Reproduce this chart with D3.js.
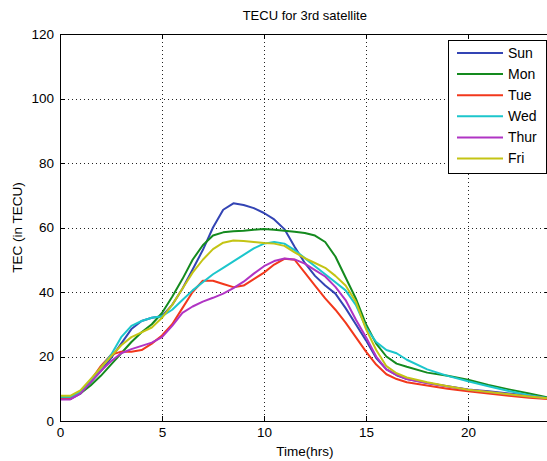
<!DOCTYPE html>
<html>
<head>
<meta charset="utf-8">
<script src="https://cdn.jsdelivr.net/npm/d3@7"></script>
<style>
  body { margin: 0; background: #fff; }
  text { font-family: "Liberation Sans", Arial, sans-serif; fill: #000; }
</style>
</head>
<body>
<svg id="chart" width="547" height="461"></svg>
<script>
// time axis (hrs), shared by all days
var hours = [0, 0.5, 1, 1.5, 2, 2.5, 3, 3.5, 4, 4.5, 5, 5.5, 6, 6.5, 7, 7.5, 8, 8.5, 9, 9.5,
    10, 10.5, 11, 11.5, 12, 12.5, 13, 13.5, 14, 14.5, 15, 15.5, 16, 16.5, 17, 18, 19, 20, 21, 22, 23, 24];

var sun = [6.8, 6.8, 8.5, 12, 15.5, 19.5, 24, 28.5, 31, 32, 32.5, 36, 41, 47, 53, 60, 65.5, 67.5, 67, 66,
    64.5, 62.5, 59.5, 54, 49, 45, 42, 39.5, 35, 30, 25, 19.5, 16, 14.2, 13, 11.8, 10.8, 9.8, 9.2, 8.5, 7.8, 7.0];
var mon = [7.5, 7.5, 8.5, 11, 14, 17.5, 21, 24.5, 27.5, 30, 33.5, 38.5, 44, 50, 54.5, 57.5, 58.5, 58.8, 59, 59.3,
    59.5, 59.3, 59, 58.7, 58.3, 57.5, 55.5, 51, 44.5, 38, 30, 24, 20, 17.8, 16.8, 15, 14, 12.8, 11.2, 9.8, 8.5, 7.2];
var tue = [6.8, 6.8, 9, 12.5, 17, 20.5, 21.5, 21.5, 22, 24, 26.5, 30, 35, 40, 43.5, 43.5, 42.5, 41.5, 42, 44,
    46, 48.5, 50.3, 50, 46, 42, 38, 34.5, 30.5, 26, 21.5, 17.5, 14.5, 13, 12, 11, 10, 9.2, 8.5, 7.8, 7.2, 6.8];
var wed = [7.5, 7.5, 9, 12.5, 16.5, 20.5, 26, 29.5, 31, 32, 32.5, 34.5, 37.5, 40.5, 43, 45.5, 47.5, 49.5, 51.5, 53.5,
    55, 55.5, 55, 53, 50.5, 48, 45.5, 43, 40.5, 36, 29, 24.5, 22, 21, 19, 16, 14, 12.3, 10.8, 9.3, 8, 7];
var thur = [6.7, 6.7, 8.5, 12, 15.5, 18.5, 21, 22.3, 23.3, 24.3, 26, 29.5, 33.5, 35.5, 37, 38.2, 39.5, 41.2, 43.2, 45.7,
    48, 49.6, 50.4, 50.1, 48.8, 46.8, 44.8, 41.6, 37.5, 31.5, 26, 20, 16, 14.3, 13, 11.8, 10.7, 9.7, 9, 8.3, 7.6, 7];
var fri = [7.8, 7.8, 9.5, 13, 16.5, 20, 23.5, 26, 27.5, 29, 32, 36, 41, 46, 50, 53.3, 55.3, 56, 55.8, 55.5,
    55.2, 55, 54.3, 52.3, 50.5, 49, 47.5, 45, 42, 37, 28.5, 22, 17, 14.8, 13.5, 12, 10.8, 9.7, 9, 8.3, 7.6, 7];

var dayNames = ["Sun", "Mon", "Tue", "Wed", "Thur", "Fri"];
var dayValues = [sun, mon, tue, wed, thur, fri];
var xTicks = [0, 5, 10, 15, 20];
var yTicks = [0, 20, 40, 60, 80, 100, 120];

var colors = ["#3344b4", "#148a1e", "#f2381c", "#1cc6cc", "#b034c4", "#c4c414"];

var margin = {left: 60, top: 34, right: 549.6, bottom: 421};

var svg = d3.select("#chart");

var x = d3.scaleLinear().domain([0, 24]).range([margin.left, margin.right]);
var y = d3.scaleLinear().domain([0, 120]).range([margin.bottom, margin.top]);

// dotted grid
var grid = svg.append("g").attr("stroke", "#222").attr("stroke-width", 1)
    .attr("stroke-dasharray", "1,3").attr("shape-rendering", "crispEdges");
grid.selectAll(".gx").data(xTicks.slice(1)).enter().append("line")
    .attr("x1", function(d){ return Math.round(x(d)) + 0.5; })
    .attr("x2", function(d){ return Math.round(x(d)) + 0.5; })
    .attr("y1", margin.top).attr("y2", margin.bottom);
grid.selectAll(".gy").data(yTicks.slice(1, -1)).enter().append("line")
    .attr("y1", function(d){ return Math.round(y(d)) + 0.5; })
    .attr("y2", function(d){ return Math.round(y(d)) + 0.5; })
    .attr("x1", margin.left).attr("x2", margin.right);

// series
var line = d3.line()
    .x(function(d){ return x(d[0]); })
    .y(function(d){ return y(d[1]); });

var lines = svg.append("g").attr("fill", "none").attr("stroke-width", 2).attr("stroke-linejoin", "round");
dayValues.forEach(function(vals, i){
    lines.append("path")
        .datum(hours.map(function(h, k){ return [h, vals[k]]; }))
        .attr("stroke", colors[i])
        .attr("d", line);
});

// axes, ticks pointing inwards on all four sides
function styleAxis(g){
    g.attr("font-size", null).attr("font-family", null);
    g.selectAll("path, line").attr("stroke", "#000").attr("shape-rendering", "crispEdges");
    g.selectAll("text").attr("font-size", 13.5);
}
svg.append("g").attr("transform", "translate(0," + margin.bottom + ")")
    .call(d3.axisBottom(x).tickValues(xTicks).tickSize(-5).tickSizeOuter(0).tickPadding(6))
    .call(styleAxis);
svg.append("g").attr("transform", "translate(0," + margin.top + ")")
    .call(d3.axisTop(x).tickValues(xTicks).tickSize(-5).tickSizeOuter(0).tickFormat(""))
    .call(styleAxis);
svg.append("g").attr("transform", "translate(" + margin.left + ",0)")
    .call(d3.axisLeft(y).tickValues(yTicks).tickSize(-5).tickSizeOuter(0).tickPadding(6))
    .call(styleAxis);
svg.append("g").attr("transform", "translate(" + margin.right + ",0)")
    .call(d3.axisRight(y).tickValues(yTicks).tickSize(-5).tickSizeOuter(0).tickFormat(""))
    .call(styleAxis);

// titles
svg.append("text").attr("x", (margin.left + margin.right) / 2).attr("y", 20)
    .attr("text-anchor", "middle").attr("font-size", 13).text("TECU for 3rd satellite");
svg.append("text").attr("x", (margin.left + margin.right) / 2).attr("y", 456)
    .attr("text-anchor", "middle").attr("font-size", 13.5).text("Time(hrs)");
svg.append("text")
    .attr("transform", "translate(22," + (margin.top + margin.bottom) / 2 + ") rotate(-90)")
    .attr("text-anchor", "middle").attr("font-size", 13.5).text("TEC (in TECU)");

// legend
var legend = svg.append("g").attr("transform", "translate(448,40)");
legend.append("rect").attr("x", 0.5).attr("y", 0.5).attr("width", 98).attr("height", 133)
    .attr("fill", "#fff").attr("stroke", "#000").attr("shape-rendering", "crispEdges");
var items = legend.selectAll(".item").data(dayNames).enter().append("g")
    .attr("transform", function(d, i){ return "translate(0," + (13 + i * 21.1) + ")"; });
items.append("line").attr("x1", 9).attr("x2", 55).attr("y1", 0).attr("y2", 0)
    .attr("stroke-width", 2).attr("stroke", function(d, i){ return colors[i]; });
items.append("text").attr("x", 60).attr("y", 0).attr("dy", "0.35em")
    .attr("font-size", 14).text(function(d){ return d; });
</script>
</body>
</html>
